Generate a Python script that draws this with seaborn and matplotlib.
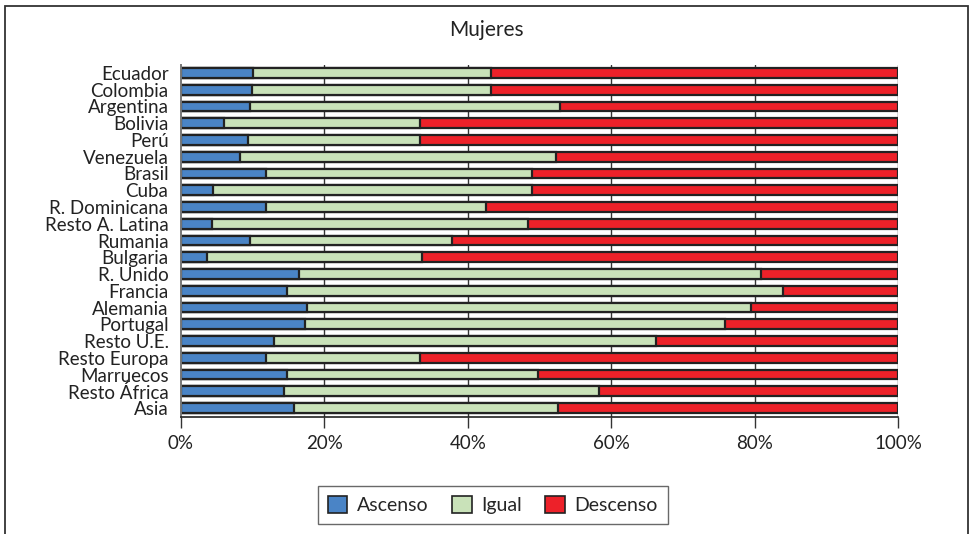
import matplotlib
matplotlib.use("Agg")
import matplotlib.pyplot as plt
import seaborn as sns
import pandas as pd
import numpy as np
from matplotlib.patches import Rectangle, Patch

categories = ["Ecuador", "Colombia", "Argentina", "Bolivia", "Perú", "Venezuela",
              "Brasil", "Cuba", "R. Dominicana", "Resto A. Latina", "Rumania",
              "Bulgaria", "R. Unido", "Francia", "Alemania", "Portugal",
              "Resto U.E.", "Resto Europa", "Marruecos", "Resto África", "Asia"]
ascenso = [10.1, 9.9, 9.6, 6.0, 9.3, 8.2, 11.9, 4.4, 11.9, 4.3, 9.6,
           3.6, 16.5, 14.8, 17.6, 17.3, 13.0, 11.9, 14.8, 14.3, 15.7]
igual_end = [43.2, 43.2, 52.9, 33.3, 33.3, 52.3, 49.0, 49.0, 42.6, 48.4, 37.8,
             33.6, 80.9, 83.9, 79.5, 75.9, 66.3, 33.3, 49.8, 58.3, 52.6]
igual = [round(e - a, 1) for e, a in zip(igual_end, ascenso)]
descenso = [round(100 - e, 1) for e in igual_end]
series_names = ["Ascenso", "Igual", "Descenso"]
xticks = [0, 20, 40, 60, 80, 100]
xtick_labels = ["0%", "20%", "40%", "60%", "80%", "100%"]

colors = {"Ascenso": "#4a84c6", "Igual": "#c9e2b9", "Descenso": "#ed2129"}

sns.set_theme(style="white")
plt.rcParams["font.family"] = ["Lato", "DejaVu Sans"]

df = pd.DataFrame({"cat": categories, "Ascenso": ascenso, "Igual": igual,
                   "Descenso": descenso})
df["c2"] = df["Ascenso"] + df["Igual"]
df["c3"] = df["c2"] + df["Descenso"]

fig = plt.figure(figsize=(9.73, 5.34), dpi=100)
ax = fig.add_axes([181 / 973, 1 - 416.5 / 534, (898 - 181) / 973, (416.5 - 64.5) / 534])

for t in xticks[1:]:
    ax.axvline(t, color="#333333", lw=1.0, zorder=0)

common = dict(y="cat", orient="h", width=0.58, edgecolor="#222222", linewidth=1.6,
              ax=ax, order=categories, saturation=1)
sns.barplot(data=df, x="c3", color=colors["Descenso"], **common)
sns.barplot(data=df, x="c2", color=colors["Igual"], **common)
sns.barplot(data=df, x="Ascenso", color=colors["Ascenso"], **common)

FS = 13.5
ax.set_xlim(0, 100)
ax.set_ylim(len(categories) - 0.5, -0.5)
ax.set_xticks(xticks)
ax.set_xticklabels(xtick_labels, fontsize=FS, color="#222222")
ax.set_xlabel("")
ax.set_ylabel("")
ax.set_yticks(range(len(categories)))
ax.set_yticklabels(categories, fontsize=FS, color="#222222")
ax.set_yticks(np.arange(-0.5, len(categories), 1.0), minor=True)
ax.tick_params(axis="y", which="major", length=0, pad=9)
ax.tick_params(axis="y", which="minor", length=8, width=1.2, color="#555555", direction="out")
ax.tick_params(axis="x", which="major", length=8, width=1.0, color="#333333",
               direction="out", pad=5, bottom=True)
for s in ["top", "right"]:
    ax.spines[s].set_visible(False)
ax.spines["left"].set_color("#777777")
ax.spines["left"].set_linewidth(1.4)
ax.spines["bottom"].set_color("#222222")
ax.spines["bottom"].set_linewidth(1.2)
ax.grid(False)

fig.text(486 / 973, 1 - 30 / 534, "Mujeres", ha="center", va="center",
         fontsize=15, color="#222222")

handles = [Patch(facecolor=colors[n], edgecolor="#222222", linewidth=1.2, label=n)
           for n in series_names]
leg = fig.legend(handles=handles, loc="center", bbox_to_anchor=(493 / 973, 1 - 505 / 534),
                 ncol=3, frameon=True, fancybox=False, fontsize=14,
                 handlelength=1.0, handleheight=1.0, handletextpad=0.5,
                 columnspacing=1.2, borderpad=0.5, borderaxespad=0)
leg.get_frame().set_edgecolor("#444444")
leg.get_frame().set_linewidth(1.0)

fig.patches.append(Rectangle((5 / 973, -0.05), (968 - 5) / 973, 1.05 - 6 / 534,
                             transform=fig.transFigure, fill=False,
                             edgecolor="#333333", linewidth=1.3))

fig.savefig("out.png", dpi=100, facecolor="white")
